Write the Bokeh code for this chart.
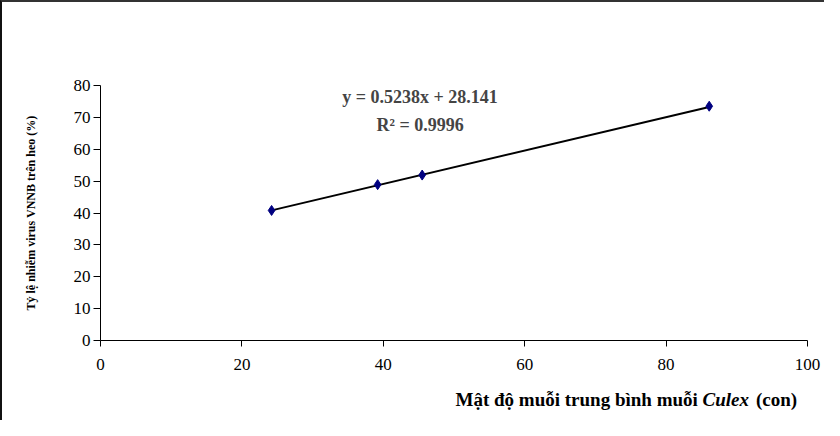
from bokeh.plotting import figure
from bokeh.layouts import column
from bokeh.models import Label
from bokeh.embed import file_html
from bokeh.resources import INLINE

# Data
mosquito_density = [24.2, 39.2, 45.5, 86.1]
infection_rate = [40.8, 48.9, 51.9, 73.5]
slope = 0.5238
intercept = 28.141
r_squared = 0.9996
x_ticks = [0, 20, 40, 60, 80, 100]
y_ticks = [0, 10, 20, 30, 40, 50, 60, 70, 80]
x_title_parts = ["M\u1eadt \u0111\u1ed9 mu\u1ed7i trung b\u00ecnh mu\u1ed7i ", "Culex", "(con)"]
y_title = "T\u1ef7 l\u1ec7 nhi\u1ec5m virus VNNB tr\u00ean heo (%)"

FONT = "Liberation Serif"

p = figure(width=822, height=378, x_range=(0, 100), y_range=(0, 80),
           output_backend="svg", toolbar_location=None,
           min_border_left=98, min_border_right=17, min_border_top=83, min_border_bottom=40)
p.outline_line_color = None
p.grid.visible = False
p.background_fill_color = "white"
p.border_fill_color = "white"

for ax in (p.xaxis, p.yaxis):
    ax.axis_line_color = "black"
    ax.axis_line_width = 1
    ax.major_tick_line_color = "black"
    ax.major_tick_in = 0
    ax.minor_tick_line_color = None
    ax.major_label_text_font = FONT
    ax.major_label_text_font_size = "17px"
    ax.major_label_text_color = "black"
p.xaxis.ticker = x_ticks
p.yaxis.ticker = y_ticks
p.xaxis.major_tick_out = 6
p.yaxis.major_tick_out = 7
p.xaxis.major_label_standoff = 12
p.yaxis.major_label_standoff = 3

p.yaxis.axis_label = y_title
p.yaxis.axis_label_text_font = FONT
p.yaxis.axis_label_text_font_style = "bold"
p.yaxis.axis_label_text_font_size = "12px"
p.yaxis.axis_label_text_color = "black"
p.yaxis.axis_label_standoff = 33

# trendline over the data range
xmin, xmax = min(mosquito_density), max(mosquito_density)
p.line([xmin, xmax], [slope * xmin + intercept, slope * xmax + intercept],
       line_color="black", line_width=2)
p.scatter(mosquito_density, infection_rate, marker="diamond", size=10,
          fill_color="#000080", line_color="#000080")

eq_text = f"y = {slope}x + {intercept}"
r_text = f"R\u00b2 = {r_squared}"
p.add_layout(Label(x=45.2, y=76.3, text=eq_text, text_font=FONT, text_font_style="bold",
                   text_font_size="18px", text_align="center", text_baseline="middle"))
p.add_layout(Label(x=45.2, y=67.5, text=r_text, text_font=FONT, text_font_style="bold",
                   text_font_size="18px", text_align="center", text_baseline="middle"))

# strip below holding the x-axis title (with italic genus name)
p2 = figure(width=822, height=40, x_range=(0, 822), y_range=(0, 40),
            output_backend="svg", toolbar_location=None,
            x_axis_type=None, y_axis_type=None,
            min_border_left=0, min_border_right=0, min_border_top=0, min_border_bottom=0)
p2.outline_line_color = None
p2.grid.visible = False
p2.background_fill_color = "white"
p2.border_fill_color = "white"

split_px = 700
base_y = 21
common = dict(text_font=FONT, text_font_size="19px", text_baseline="alphabetic",
              text_color="black")
p2.add_layout(Label(x=split_px, y=base_y, text=x_title_parts[0], text_font_style="bold",
                    text_align="right", **common))
p2.add_layout(Label(x=split_px, y=base_y, text=x_title_parts[1], text_font_style="bold italic",
                    text_align="left", **common))
p2.add_layout(Label(x=split_px + 62, y=base_y, text=x_title_parts[2], text_font_style="bold",
                    text_align="left", **common))

layout = column(p, p2, spacing=0)
layout.styles = {"border-top": "2px solid #333333", "border-left": "2px solid #111111"}

open("out.html", "w").write(file_html(layout, INLINE))
